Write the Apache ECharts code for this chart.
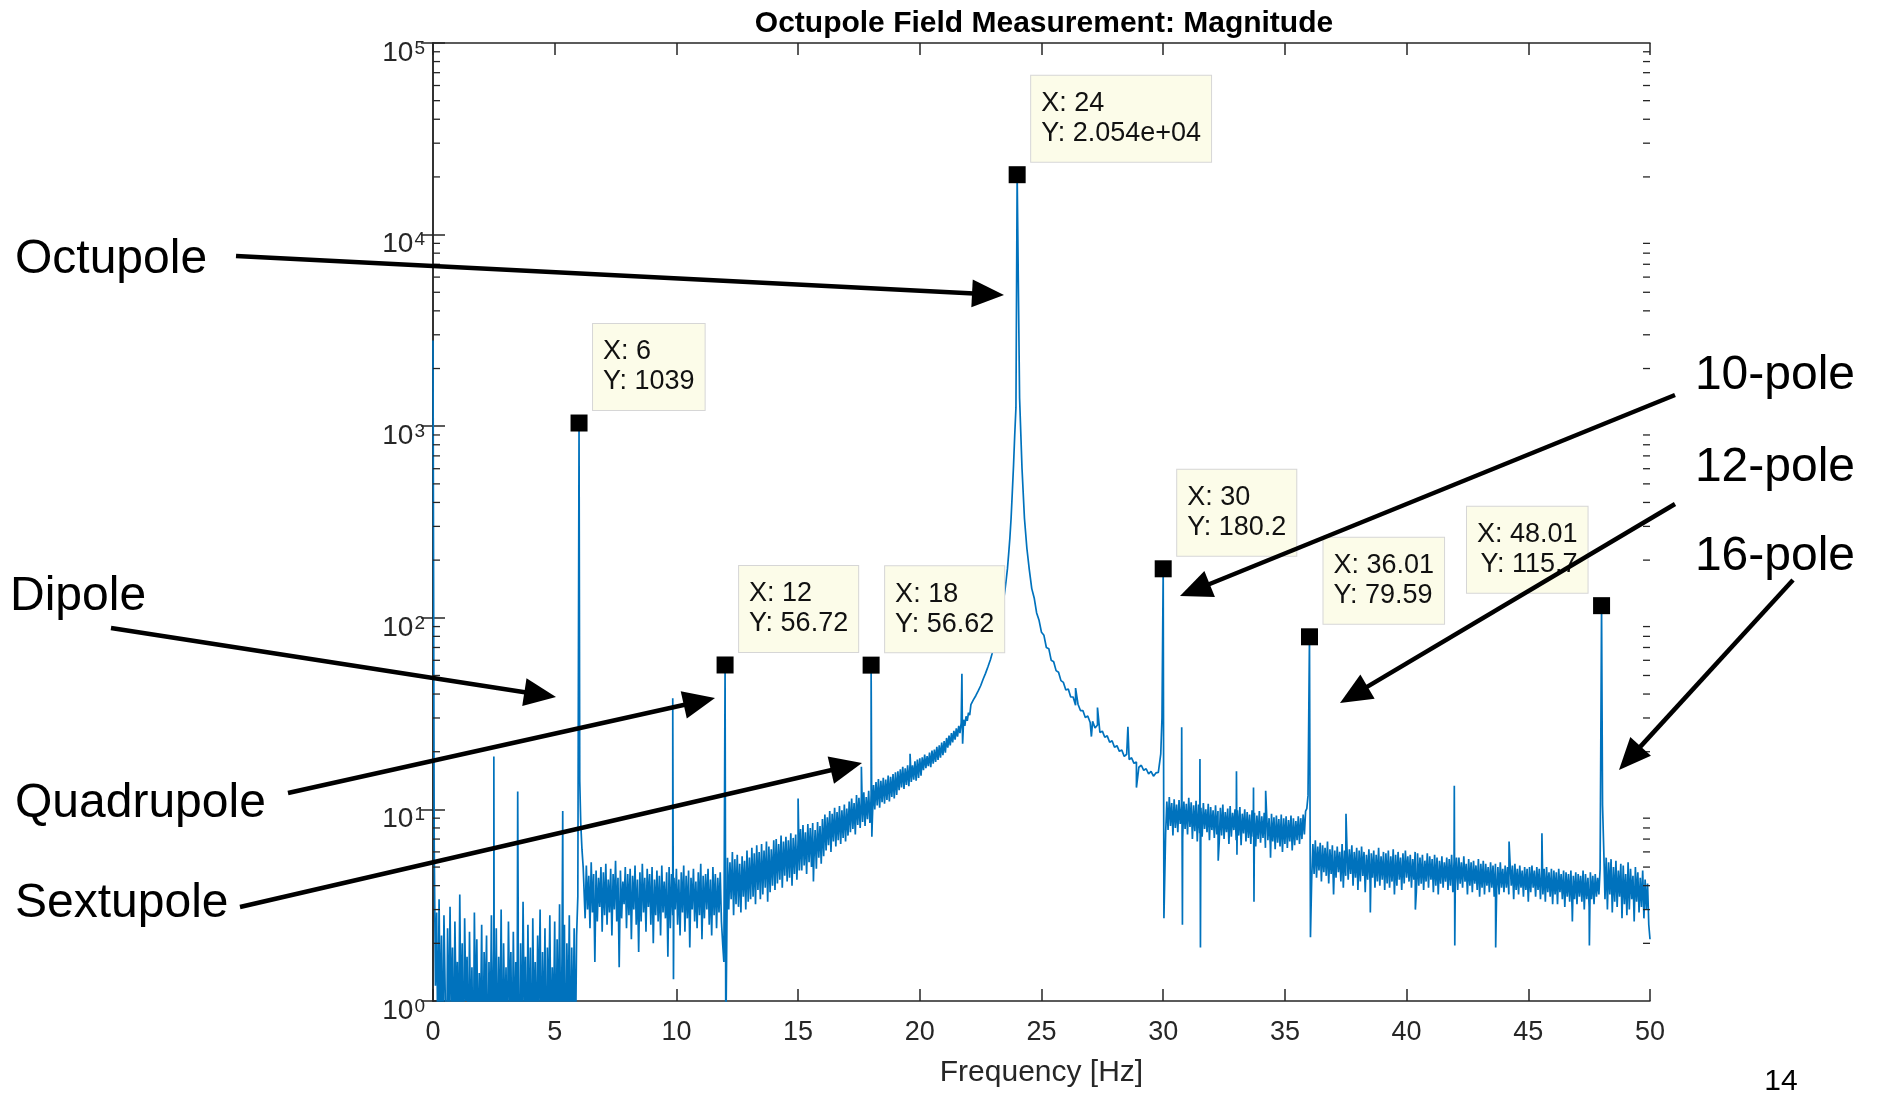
<!DOCTYPE html>
<html>
<head>
<meta charset="utf-8">
<title>Octupole Field Measurement: Magnitude</title>
<script src="https://cdn.jsdelivr.net/npm/echarts@6/dist/echarts.min.js"></script>
<style>
  html, body { margin: 0; padding: 0; background: #fff; }
  #chart { width: 1879px; height: 1093px; }
</style>
</head>
<body>
<div id="chart"></div>
<script>
// ---- Spectrum magnitude, in bands on a regular frequency grid ----
// 0.05 .. 5.90 Hz, 0.05 Hz steps (floor noise below the dipole line)
const lowBand = [
  6.5, 1.2, 2.9, 0.5, 3.4, 0.7, 2.2, 0.4, 2.8, 1.1,
  0.3, 2.4, 0.6, 3.1, 0.8, 1.9, 0.4, 2.6, 0.9, 1.6,
  0.5, 3.6, 0.7, 2.0, 0.3, 2.7, 1.0, 1.7, 0.4, 2.3,
  0.6, 1.5, 0.3, 2.9, 0.8, 2.1, 0.5, 1.4, 0.7, 2.5,
  0.4, 1.8, 0.9, 2.2, 0.3, 1.6, 0.6, 2.8, 0.5, 1.9,
  0.8, 2.4, 0.4, 1.7, 0.6, 3.0, 0.3, 2.0, 0.7, 1.5,
  0.5, 2.6, 0.9, 1.8, 0.4, 2.3, 0.6, 1.6, 0.3, 2.9,
  0.7, 2.0, 0.5, 3.3, 0.8, 1.7, 0.4, 2.5, 0.6, 1.9,
  0.3, 2.7, 0.7, 1.6, 0.5, 2.2, 0.9, 3.0, 0.4, 1.8,
  0.6, 2.4, 0.3, 1.9, 0.8, 2.8, 0.5, 1.5, 0.7, 2.6,
  0.4, 2.1, 0.6, 3.2, 0.5, 1.7, 0.8, 2.5, 0.3, 2.0,
  0.7, 2.8, 0.4, 1.9, 0.6, 2.4, 0.5, 2.2
];
// 6.20 .. 11.90 Hz, 0.05 Hz steps
const dipoleBand = [
  4.9, 2.7, 5.1, 3.0, 4.5, 2.4, 5.3, 2.9, 4.6, 1.6,
  4.8, 2.6, 4.4, 3.1, 5.0, 2.3, 4.7, 2.8, 5.2, 2.5,
  4.3, 2.9, 4.9, 2.2, 4.6, 3.0, 5.4, 2.6, 4.4, 1.5,
  4.8, 2.7, 4.2, 3.2, 5.0, 2.4, 4.6, 2.8, 4.9, 2.1,
  4.5, 3.0, 5.1, 2.5, 4.3, 1.8, 4.7, 2.6, 5.2, 2.9,
  4.4, 2.3, 4.9, 3.1, 4.6, 2.5, 5.0, 2.0, 4.3, 2.8,
  4.8, 2.6, 4.5, 2.2, 5.1, 2.9, 4.2, 2.7, 4.7, 1.7,
  5.0, 2.4, 4.6, 2.8, 4.4, 3.0, 4.9, 2.5, 4.3, 2.2,
  4.7, 2.9, 5.1, 2.3, 4.5, 2.7, 4.8, 1.9, 4.4, 3.0,
  4.9, 2.6, 4.2, 2.4, 4.7, 2.8, 5.2, 2.1, 4.5, 2.7,
  4.6, 3.0, 4.9, 2.5, 4.3, 2.2, 5.0, 2.8, 4.6, 2.4,
  4.4, 2.9, 4.7, 2.6, 2.0
];
// 12.10 .. 23.95 Hz, 0.05 Hz steps, rising into the octupole line
const risingBand = [
  5.6, 3.0, 5.3, 3.4, 6.0, 2.8, 5.5, 3.2, 5.8, 3.1,
  5.2, 2.9, 5.7, 3.5, 5.4, 3.0, 6.1, 3.3, 5.6, 3.4,
  6.3, 3.5, 5.9, 3.2, 6.5, 3.8, 6.0, 3.4, 6.6, 3.6,
  6.1, 3.9, 6.8, 3.3, 6.4, 3.7, 6.2, 4.0, 6.9, 3.8,
  7.0, 4.1, 6.6, 4.3, 7.3, 3.9, 6.8, 4.5, 7.2, 4.2,
  6.9, 4.4, 7.5, 4.0, 7.1, 4.6, 7.4, 4.3, 7.0, 4.8,
  7.9, 4.8, 8.3, 5.1, 7.6, 4.6, 8.4, 5.3, 8.0, 5.0,
  8.5, 5.4, 7.8, 4.9, 8.6, 5.6, 8.2, 5.2, 8.9, 5.7,
  9.4, 6.1, 9.1, 6.5, 9.8, 6.0, 9.5, 6.8, 10.2, 6.4,
  9.7, 6.9, 10.4, 6.6, 9.9, 7.1, 10.6, 6.8, 10.1, 7.3,
  11.0, 7.6, 11.4, 7.9, 10.8, 7.4, 11.9, 8.3, 11.5, 8.0,
  11.8, 8.6, 12.3, 8.2, 11.6, 8.9, 12.5, 8.5, 12.1, 8.8,
  13.4, 10.0, 13.9, 10.5, 14.4, 10.2, 14.1, 10.9, 14.6, 10.7,
  14.3, 11.2, 15.0, 11.0, 14.8, 11.6, 15.3, 11.4, 15.6, 11.9,
  15.8, 12.6, 16.2, 13.0, 16.7, 12.8, 16.4, 13.4, 17.0, 13.2,
  17.3, 13.9, 17.0, 14.3, 17.8, 14.1, 18.2, 14.6, 18.5, 15.0,
  18.7, 16.0, 19.3, 16.4, 19.0, 16.8, 19.8, 16.6, 20.3, 17.3,
  20.5, 17.7, 21.2, 18.1, 21.6, 18.6, 22.3, 19.2, 22.7, 19.8,
  23.6, 21.0, 24.3, 21.6, 25.0, 22.4, 25.7, 23.1, 26.5, 24.0,
  27.3, 25.0, 28.3, 26.0, 29.4, 27.3, 30.6, 29.0, 32.0, 31.0,
  35.2, 34.6, 37.3, 36.6, 39.2, 38.8, 41.5, 41.0, 44.2, 43.6,
  47.8, 47.0, 51.3, 50.6, 55.5, 54.8, 60.4, 59.8, 67.0, 68.8,
  73, 78, 84, 90, 97, 105, 114, 126, 140, 158,
  180, 215, 260, 330, 450, 620, 900, 1250
];
// 24.1 .. 29.9 Hz, 0.1 Hz steps, falling tail of the octupole line
const octupoleTail = [
  1400, 600, 330, 230, 178, 142, 127, 106, 97, 84,
  81, 70, 69, 60, 59, 53, 52, 47, 46, 42,
  42.5, 38.6, 38.6, 35.0, 35.4, 32.8, 32.8, 30.2, 30.7, 28.4,
  28.8, 26.6, 27.6, 25.2, 25.6, 23.8, 24.2, 22.4, 22.8, 21.1,
  21.5, 20.1, 20.4, 18.9, 19.4, 18.2, 18.6, 17.4, 17.7, 16.6,
  17.0, 16.0, 16.3, 15.3, 15.8, 14.9, 15.5, 15.6, 19.5
];
// 30.10 .. 35.95 Hz, 0.05 Hz steps
const midBand = [
  7.5, 11.0, 7.8, 11.6, 8.2, 10.8, 7.3, 11.3, 8.0, 10.6,
  7.6, 11.2, 8.4, 10.4, 7.1, 11.0, 7.9, 10.7, 7.4, 11.5,
  8.1, 10.9, 7.0, 10.5, 7.7, 11.1, 6.8, 10.6, 7.5, 10.2,
  7.2, 10.8, 7.9, 10.0, 7.6, 10.7, 6.9, 10.3, 7.8, 9.9,
  7.1, 10.5, 7.4, 9.8, 6.7, 10.2, 7.3, 10.6, 7.0, 9.7,
  7.6, 10.1, 6.6, 10.4, 7.2, 9.6, 7.8, 10.0, 6.9, 9.9,
  7.3, 10.3, 6.5, 9.5, 7.5, 10.0, 6.8, 9.7, 7.1, 9.4,
  6.6, 9.9, 7.2, 9.6, 6.4, 9.3, 7.0, 9.8, 6.7, 9.2,
  7.1, 9.6, 6.3, 9.4, 6.9, 9.0, 6.5, 9.5, 6.8, 9.1,
  6.2, 9.3, 6.7, 8.9, 6.4, 9.4, 6.0, 9.0, 6.6, 9.2,
  6.3, 8.8, 6.8, 9.3, 6.1, 9.0, 6.5, 8.7, 6.9, 9.2,
  6.6, 9.0, 7.0, 9.4, 7.4, 9.8, 10.1, 11.8
];
// 36.10 .. 47.95 Hz, 0.05 Hz steps
const highBand = [
  4.3, 6.6, 4.6, 6.9, 4.4, 6.4, 4.8, 6.7, 4.2, 6.5,
  4.7, 6.3, 4.5, 6.8, 4.1, 6.2, 4.6, 6.5, 3.6, 6.1,
  4.4, 6.4, 4.7, 6.0, 4.2, 6.6, 3.9, 6.1, 4.5, 6.3,
  4.3, 6.2, 4.6, 6.5, 4.0, 6.0, 4.4, 6.3, 3.8, 6.1,
  4.2, 6.4, 4.5, 6.0, 3.7, 5.8, 4.3, 6.2, 4.1, 5.9,
  4.4, 6.1, 3.9, 5.8, 4.2, 6.3, 4.0, 5.7, 4.3, 6.0,
  3.8, 5.9, 4.1, 6.1, 3.9, 5.7, 4.2, 6.2, 3.6, 5.8,
  4.0, 6.0, 4.3, 5.6, 3.8, 5.9, 4.1, 6.1, 4.4, 5.7,
  4.2, 5.8, 3.9, 5.5, 4.3, 6.0, 3.7, 5.9, 4.0, 5.6,
  4.1, 5.8, 3.8, 5.4, 4.2, 5.9, 3.9, 5.7, 4.3, 5.5,
  3.7, 5.8, 4.0, 5.6, 3.6, 5.4, 4.1, 5.7, 3.9, 5.3,
  4.2, 5.6, 3.8, 5.5, 4.0, 5.8, 3.7, 5.4, 4.1, 5.6,
  3.8, 5.6, 4.1, 5.3, 3.9, 5.7, 4.2, 5.2, 3.6, 5.5,
  4.0, 5.3, 3.7, 5.4, 4.1, 5.1, 3.8, 5.5, 3.5, 5.2,
  3.9, 5.4, 3.6, 5.2, 4.0, 5.0, 3.7, 5.3, 3.9, 5.1,
  3.5, 5.2, 3.8, 5.0, 3.6, 5.3, 3.9, 4.9, 3.7, 5.1,
  3.9, 5.0, 3.6, 5.3, 4.0, 5.1, 3.4, 5.2, 3.8, 4.9,
  3.6, 5.1, 3.9, 4.8, 3.5, 5.0, 3.8, 4.9, 3.3, 5.0,
  3.7, 5.1, 3.9, 4.8, 3.5, 5.0, 3.8, 4.9, 3.4, 4.8,
  3.6, 4.9, 3.3, 5.0, 3.7, 4.7, 3.5, 4.9, 3.2, 4.8,
  3.6, 4.7, 3.2, 4.9, 3.7, 4.6, 3.4, 4.8, 3.1, 4.7,
  3.5, 4.6, 3.3, 4.8, 3.0, 4.5, 3.4, 4.7, 3.2, 4.6,
  3.5, 4.5, 3.3, 4.8, 3.0, 4.6, 3.4, 4.4, 3.1, 4.7,
  3.4, 4.5, 3.2, 4.6, 3.5, 4.4, 3.6, 4.9
];
// 48.10 .. 50.00 Hz, 0.05 Hz steps
const topBand = [
  6.2, 3.4, 5.6, 3.0, 5.3, 3.6, 5.5, 2.9, 5.0, 3.3,
  5.4, 3.1, 4.8, 3.5, 5.2, 2.7, 5.1, 3.2, 4.6, 2.8,
  5.3, 3.0, 4.9, 3.4, 4.5, 2.6, 5.0, 3.3, 4.7, 2.9,
  4.4, 3.1, 4.8, 2.7, 4.3, 3.0, 4.1, 2.5, 2.1
];
// [values, first frequency, step] of each band
const bandGrid = [
  [lowBand, 0.05, 0.05],
  [dipoleBand, 6.2, 0.05],
  [risingBand, 12.1, 0.05],
  [octupoleTail, 24.1, 0.1],
  [midBand, 30.1, 0.05],
  [highBand, 36.1, 0.05],
  [topBand, 48.1, 0.05]
];

// Harmonic lines marked with data tips
const peakFreq = [6, 12, 18, 24, 30, 36.01, 48.01];
const peakMag  = [1039, 56.72, 56.62, 20540, 180.2, 79.59, 115.7];
// Data tip box side (the last one sits left of its marker)
const tipSide  = ['right', 'right', 'right', 'right', 'right', 'right', 'left'];

// Narrow spurs and dropouts between the grid points: [Hz, magnitude]
const spurs = [
  [0, 2800],
  [2.5, 18.9], [2.52, 0.5], [3.48, 12.4], [3.5, 0.4], [5.33, 9.8], [5.35, 0.5],
  [5.95, 3.5], [6.03, 14], [6.07, 8.5], [6.12, 6.2], [6.17, 5.0],
  [9.85, 38], [9.88, 1.3], [11.95, 1.6], [12.03, 0.6],
  [15.0, 11.4], [15.63, 4.2], [17.6, 16.7], [17.97, 8.8], [18.03, 7.2], [19.6, 19.5],
  [21.73, 51], [21.76, 22],
  [26.4, 43], [27.05, 24], [27.3, 34], [28.55, 27], [28.9, 13],
  [29.95, 30], [30.03, 2.7], [30.76, 26.8], [30.79, 2.5], [31.51, 18.3], [31.53, 1.9],
  [32.26, 5.4], [33.01, 15.8], [33.03, 5.8], [33.71, 13], [33.73, 3.3], [34.21, 12.5], [34.41, 5.6],
  [36.05, 2.15], [37.51, 9.5], [38.51, 2.9], [40.36, 3.0], [41.96, 13.3], [41.98, 1.95],
  [43.66, 1.9], [44.21, 6.8], [45.56, 7.5], [46.81, 2.6], [47.51, 1.95], [47.98, 5.0], [48.05, 10.5]
];

const yTickExponents = [0, 1, 2, 3, 4, 5];
const xTickLabels = ['0', '5', '10', '15', '20', '25', '30', '35', '40', '45', '50'];

// ---- Build the plotted trace ----
const trace = [];
bandGrid.forEach(([vals, f0, df]) => {
  vals.forEach((v, i) => trace.push([Math.round((f0 + i * df) * 1000) / 1000, v]));
});
peakFreq.forEach((f, i) => trace.push([f, peakMag[i]]));
spurs.forEach(p => trace.push([p[0], p[1]]));
trace.sort((a, b) => a[0] - b[0]);

const tips = peakFreq.map((f, i) => {
  const item = { value: [f, peakMag[i]] };
  if (tipSide[i] === 'left') item.label = { position: [-5.5, -4.5], align: 'right' };
  return item;
});

// Minor log ticks (2..9 within each decade)
const minorTicks = [];
for (let e = 0; e < 5; e++) {
  for (let m = 2; m <= 9; m++) minorTicks.push([0, m * Math.pow(10, e)]);
}

// 4 significant digits, trailing zeros dropped
function g4(v) {
  if (Math.abs(v) >= 1e4) {
    const e = Math.floor(Math.log10(Math.abs(v)));
    const m = (v / Math.pow(10, e)).toFixed(3).replace(/\.?0+$/, '');
    return m + 'e+' + String(e).padStart(2, '0');
  }
  return String(parseFloat(v.toPrecision(4)));
}

const FONT = '"Liberation Sans", Arial, Helvetica, sans-serif';
const AX = '#262626';

// ---- Annotations around the plot ----
const callouts = [
  { text: 'Octupole',   x: 15,   y: 260, align: 'left',  from: [236, 256],  to: [1004, 295] },
  { text: 'Dipole',     x: 10,   y: 597, align: 'left',  from: [111, 628],  to: [556, 697] },
  { text: 'Quadrupole', x: 15,   y: 804, align: 'left',  from: [288, 793],  to: [715, 698] },
  { text: 'Sextupole',  x: 15,   y: 904, align: 'left',  from: [240, 907],  to: [862, 763] },
  { text: '10-pole',    x: 1855, y: 376, align: 'right', from: [1675, 395], to: [1180, 596] },
  { text: '12-pole',    x: 1855, y: 468, align: 'right', from: [1675, 504], to: [1340, 703] },
  { text: '16-pole',    x: 1855, y: 557, align: 'right', from: [1793, 580], to: [1619, 770] }
];

const graphics = [];
callouts.forEach(c => {
  graphics.push({
    type: 'text', x: c.x, y: c.y, z: 100,
    style: { text: c.text, font: '48px ' + FONT, fill: '#000',
             textAlign: c.align, textVerticalAlign: 'middle', align: c.align, verticalAlign: 'middle' }
  });
  const dx = c.to[0] - c.from[0], dy = c.to[1] - c.from[1];
  const len = Math.hypot(dx, dy), ux = dx / len, uy = dy / len;
  const head = 32, half = 14;
  const bx = c.to[0] - ux * head, by = c.to[1] - uy * head;
  graphics.push({
    type: 'line', z: 100,
    shape: { x1: c.from[0], y1: c.from[1], x2: bx + ux * 2, y2: by + uy * 2 },
    style: { stroke: '#000', lineWidth: 4.5 }
  });
  graphics.push({
    type: 'polygon', z: 100,
    shape: { points: [c.to, [bx - uy * half, by + ux * half], [bx + uy * half, by - ux * half]] },
    style: { fill: '#000' }
  });
});
graphics.push({
  type: 'text', x: 1781, y: 1082, z: 100,
  style: { text: '14', font: '30px ' + FONT, fill: '#000',
           textAlign: 'center', textVerticalAlign: 'middle', align: 'center', verticalAlign: 'middle' }
});

const axisLine = { show: true, lineStyle: { color: AX, width: 1.5 } };
const majorTick = { show: true, inside: true, length: 12, lineStyle: { color: AX, width: 1.5 } };

const option = {
  animation: false,
  backgroundColor: '#fff',
  textStyle: { fontFamily: FONT },
  title: {
    text: 'Octupole Field Measurement: Magnitude',
    left: 1039, top: 4, textAlign: 'center',
    textStyle: { fontSize: 30, fontWeight: 'bold', color: '#000', fontFamily: FONT }
  },
  grid: { left: 433, top: 43, width: 1217, height: 960 },
  xAxis: [
    {
      type: 'value', min: 0, max: 50, interval: 5, position: 'bottom',
      name: 'Frequency [Hz]', nameLocation: 'middle', nameGap: 57,
      nameTextStyle: { fontSize: 30, color: AX, fontFamily: FONT },
      axisLine, axisTick: majorTick, splitLine: { show: false },
      axisLabel: { fontSize: 27, color: AX, margin: 18, fontFamily: FONT,
                   formatter: v => xTickLabels[Math.round(v / 5)] }
    },
    {
      type: 'value', min: 0, max: 50, interval: 5, position: 'top',
      axisLine, axisTick: majorTick, splitLine: { show: false }, axisLabel: { show: false }
    }
  ],
  yAxis: [
    {
      type: 'log', logBase: 10, min: 1, max: 100000, position: 'left',
      axisLine, axisTick: majorTick, splitLine: { show: false },
      axisLabel: {
        margin: 8, color: AX, fontFamily: FONT, fontSize: 28, padding: [20, 0, 0, 0],
        formatter: v => {
          const e = Math.round(Math.log10(v));
          return yTickExponents.includes(e) ? '{b|10}{s|' + e + '}' : '';
        },
        rich: {
          b: { fontSize: 28, lineHeight: 28, color: AX, verticalAlign: 'bottom', fontFamily: FONT },
          s: { fontSize: 19, lineHeight: 19, color: AX, padding: [0, 0, 13, 1], verticalAlign: 'top', fontFamily: FONT }
        }
      }
    },
    {
      type: 'log', logBase: 10, min: 1, max: 100000, position: 'right',
      axisLine, axisTick: majorTick, splitLine: { show: false }, axisLabel: { show: false }
    }
  ],
  series: [
    {
      type: 'line', name: 'Magnitude', data: trace, xAxisIndex: 0, yAxisIndex: 0,
      showSymbol: false, symbol: 'none', clip: true, silent: true, z: 2,
      lineStyle: { color: '#0072BD', width: 1.7 }
    },
    {
      type: 'custom', data: minorTicks, xAxisIndex: 0, yAxisIndex: 0, silent: true, z: 3, clip: false,
      renderItem: (params, api) => {
        const v = api.value(1);
        const l = api.coord([0, v]);
        const r = api.coord([50, v]);
        return {
          type: 'group',
          children: [
            { type: 'line', shape: { x1: l[0], y1: l[1], x2: l[0] + 7, y2: l[1] }, style: { stroke: AX, lineWidth: 1.3 } },
            { type: 'line', shape: { x1: r[0], y1: r[1], x2: r[0] - 7, y2: r[1] }, style: { stroke: AX, lineWidth: 1.3 } }
          ]
        };
      }
    },
    {
      type: 'scatter', name: 'Data tips', data: tips, xAxisIndex: 0, yAxisIndex: 0,
      symbol: 'rect', symbolSize: 17, itemStyle: { color: '#000', opacity: 1 }, z: 10, clip: false, silent: true,
      label: {
        show: true, position: [22.5, -4.5], align: 'left', verticalAlign: 'bottom',
        formatter: p => 'X: ' + g4(p.value[0]) + '\nY: ' + g4(p.value[1]),
        fontSize: 27, lineHeight: 30, color: '#111', fontFamily: FONT,
        backgroundColor: '#fcfce9', borderColor: '#d6d6d6', borderWidth: 1,
        padding: [13, 10, 13, 10]
      }
    }
  ],
  graphic: graphics
};

const chart = echarts.init(document.getElementById('chart'), null, { renderer: 'canvas' });
chart.setOption(option);
</script>
</body>
</html>
